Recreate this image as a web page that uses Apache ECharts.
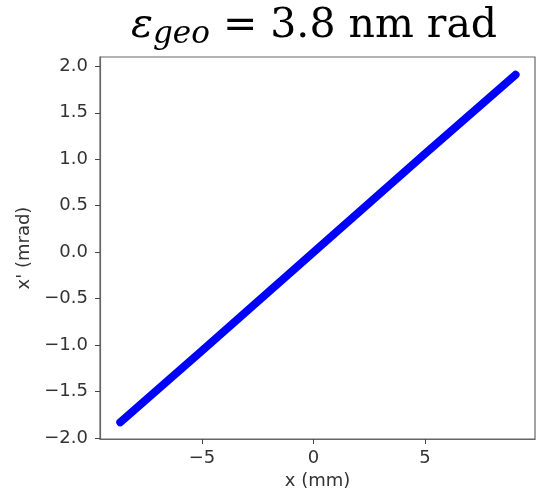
<!DOCTYPE html>
<html><head><meta charset="utf-8">
<script src="https://cdn.jsdelivr.net/npm/echarts@6/dist/echarts.min.js"></script>
<style>html,body{margin:0;padding:0;background:#fff}#c{width:540px;height:489px}</style>
</head><body><div id="c"></div>
<script>
// Phase-space points (x in mm, x' in mrad)
const xVals = [-8.66, -5.0, 0.0, 5.0, 9.06];
const yVals = [-1.83, -1.06, 0.0, 1.06, 1.91];
const xTicks = [-5, 0, 5];
const yTicks = [-2.0, -1.5, -1.0, -0.5, 0.0, 0.5, 1.0, 1.5, 2.0];
const titleParts = {eps: 'ε', sub: 'geo', rest: ' = 3.8 nm rad'};

const fmt = v => (v < 0 ? '\u2212' : '') + Math.abs(v);
const fmtY = v => (v < -1e-9 ? '\u2212' : '') + Math.abs(v).toFixed(1);

const chart = echarts.init(document.getElementById('c'));
const axisCol = '#666';
chart.setOption({
  animation: false,
  title: {
    text: '{e|' + titleParts.eps + '}{s|' + titleParts.sub + '}{r|' + titleParts.rest + '}',
    left: 126, top: 1,
    textStyle: {
      rich: {
        e: {fontFamily: 'DejaVu Serif', fontStyle: 'italic', fontWeight: 'normal', fontSize: 41, lineHeight: 50, color: '#000', verticalAlign: 'top'},
        s: {fontFamily: 'DejaVu Serif', fontStyle: 'italic', fontWeight: 'normal', fontSize: 31, lineHeight: 50, color: '#000', padding: [13, 0, 0, 0], verticalAlign: 'top'},
        r: {fontFamily: 'DejaVu Serif', fontWeight: 'normal', fontSize: 41, lineHeight: 50, color: '#000', verticalAlign: 'top'}
      }
    }
  },
  grid: {left: 100, right: 5, top: 57, bottom: 50, outerBoundsMode: 'none', containLabel: false, show: true, borderColor: axisCol, borderWidth: 1.2, backgroundColor: '#fff'},
  xAxis: {
    type: 'value', min: -9.57, max: 9.93,
    name: 'x (mm)', nameLocation: 'middle', nameGap: 27,
    nameTextStyle: {fontFamily: 'DejaVu Sans', fontSize: 18, color: '#333', verticalAlign: 'top'},
    axisLine: {show: true, onZero: false, lineStyle: {color: axisCol, width: 1.2}},
    splitLine: {show: false},
    axisTick: {show: true, length: 5, inside: false, customValues: xTicks, lineStyle: {color: '#444'}},
    axisLabel: {customValues: xTicks, formatter: fmt, fontFamily: 'DejaVu Sans', fontSize: 18, color: '#333', margin: 10}
  },
  yAxis: {
    type: 'value', min: -2.01, max: 2.10,
    name: "x' (mrad)", nameLocation: 'middle', nameGap: 62, nameRotate: 90,
    nameTextStyle: {fontFamily: 'DejaVu Sans', fontSize: 18, color: '#333'},
    axisLine: {show: true, onZero: false, lineStyle: {color: axisCol, width: 1.2}},
    splitLine: {show: false},
    axisTick: {show: true, length: 5, inside: false, customValues: yTicks, lineStyle: {color: '#444'}},
    axisLabel: {customValues: yTicks, formatter: fmtY, fontFamily: 'DejaVu Sans', fontSize: 18, color: '#333', margin: 12}
  },
  series: [{
    type: 'line',
    data: xVals.map((x, i) => [x, yVals[i]]),
    showSymbol: false,
    smooth: false,
    lineStyle: {color: '#0000ff', width: 8, cap: 'round', join: 'round'}
  }]
});
</script></body></html>
